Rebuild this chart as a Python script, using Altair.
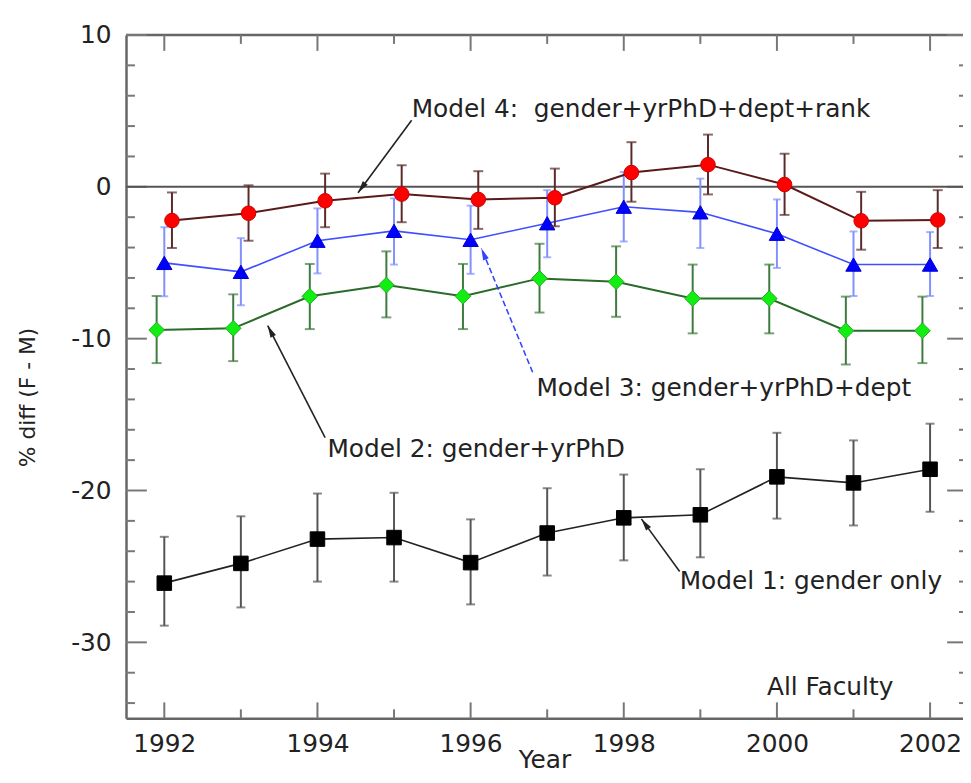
import math
import altair as alt
import pandas as pd

# ---------------- data ----------------
years = list(range(1992, 2003))

m1_val = [-26.1, -24.8, -23.2, -23.1, -24.75, -22.8, -21.8, -21.6, -19.1, -19.5, -18.6]
m1_lo = [-28.9, -27.7, -26.0, -26.0, -27.5, -25.6, -24.6, -24.4, -21.85, -22.3, -21.4]
m1_hi = [-23.05, -21.7, -20.2, -20.15, -21.9, -19.85, -18.95, -18.6, -16.2, -16.7, -15.6]

m2_val = [-9.43, -9.32, -7.21, -6.47, -7.21, -6.03, -6.25, -7.36, -7.36, -9.48, -9.48]
m2_lo = [-11.61, -11.48, -9.37, -8.6, -9.37, -8.28, -8.56, -9.65, -9.65, -11.7, -11.61]
m2_hi = [-7.19, -7.08, -5.08, -4.25, -5.08, -3.75, -3.92, -5.12, -5.12, -7.23, -7.23]

m3_val = [-5.01, -5.6, -3.55, -2.9, -3.49, -2.4, -1.31, -1.68, -3.09, -5.12, -5.12]
m3_lo = [-7.21, -7.8, -5.7, -5.12, -5.73, -4.64, -3.6, -4.03, -5.34, -7.19, -7.19]
m3_hi = [-2.66, -3.38, -1.42, -0.76, -1.24, -0.22, 0.98, 0.54, -0.83, -2.94, -2.98]

m4_val = [-2.22, -1.74, -0.92, -0.48, -0.83, -0.72, 0.94, 1.46, 0.15, -2.24, -2.18]
m4_lo = [-4.03, -3.55, -2.66, -2.33, -2.77, -2.6, -0.98, -0.5, -1.85, -4.14, -4.03]
m4_hi = [-0.37, 0.1, 0.87, 1.42, 1.03, 1.2, 2.94, 3.44, 2.18, -0.33, -0.22]

x_major = [1992, 1994, 1996, 1998, 2000, 2002]
x_minor = [1993, 1995, 1997, 1999, 2001]
y_major = [-30, -20, -10, 0, 10]
y_minor = [-34, -32, -28, -26, -24, -22, -18, -16, -14, -12, -8, -6, -4, -2, 2, 4, 6, 8]

ann_labels = ["Model 4:\u00a0 gender+yrPhD+dept+rank", "Model 3: gender+yrPhD+dept",
              "Model 2: gender+yrPhD", "Model 1: gender only", "All Faculty"]
ann_x = [1995.23, 1996.86, 1994.13, 1998.73, 1999.87]
ann_y = [4.58, -13.77, -17.82, -26.51, -33.5]

arrow_tail_x = [1995.23, 1996.81, 1994.10, 1998.73]
arrow_tail_y = [4.38, -12.21, -16.52, -25.33]
arrow_head_x = [1994.53, 1996.14, 1993.35, 1998.23]
arrow_head_y = [-0.385, -4.04, -9.14, -21.87]

# ---------------- layout / style ----------------
W, H = 844, 689
X_DOM = [1991.5, 2002.43]
Y_DOM = [-35, 10]
FONT = "DejaVu Sans"
TXT = "#222222"
FRAME = "#666666"
TICK = "#777777"

xs = alt.Scale(domain=X_DOM, nice=False, zero=False)
ys = alt.Scale(domain=Y_DOM, nice=False, zero=False)
xaxis = alt.Axis(values=x_major, format="d", ticks=False, tickSize=0, grid=False,
                 domain=True, domainColor=FRAME, domainWidth=2.5,
                 labelPadding=14, labelFontSize=25, labelFont=FONT, labelColor=TXT,
                 title="Year", titleFont=FONT, titleFontSize=25, titleFontWeight="normal",
                 titleColor=TXT, titleY=50, titleBaseline="alphabetic")
yaxis = alt.Axis(values=y_major, ticks=False, tickSize=0, grid=False,
                 labelExpr="'' + datum.value",
                 domain=True, domainColor=FRAME, domainWidth=2.5,
                 labelPadding=15, labelFontSize=25, labelFont=FONT, labelColor=TXT,
                 labelBaseline="middle",
                 title="% diff (F - M)", titleFont=FONT, titleFontSize=22,
                 titleFontWeight="normal", titleColor=TXT, titleX=-99, titleY=365,
                 titleAlign="center", titleBaseline="middle", titleAngle=270)


def X(f):
    return alt.X(f, type="quantitative", scale=xs, axis=xaxis)


def Y(f):
    return alt.Y(f, type="quantitative", scale=ys, axis=yaxis)


layers = []

# frame top
layers.append(alt.Chart(pd.DataFrame({"v": [Y_DOM[1]]})).mark_rule(color=FRAME, strokeWidth=2.5)
              .encode(y=Y("v"), x=alt.value(0), x2=alt.value(W)))

# ticks
xmaj = pd.DataFrame({"v": x_major})
xmin = pd.DataFrame({"v": x_minor})
ymaj = pd.DataFrame({"v": y_major})
ymin = pd.DataFrame({"v": y_minor})
tick = dict(color=TICK, strokeWidth=2)
layers += [
    alt.Chart(xmaj).mark_rule(**tick).encode(x=X("v"), y=alt.value(H - 16), y2=alt.value(H)),
    alt.Chart(xmin).mark_rule(**tick).encode(x=X("v"), y=alt.value(H - 9), y2=alt.value(H)),
    alt.Chart(xmaj).mark_rule(**tick).encode(x=X("v"), y=alt.value(0), y2=alt.value(16)),
    alt.Chart(xmin).mark_rule(**tick).encode(x=X("v"), y=alt.value(0), y2=alt.value(9)),
    alt.Chart(ymaj).mark_rule(**tick).encode(y=Y("v"), x=alt.value(0), x2=alt.value(21)),
    alt.Chart(ymin).mark_rule(**tick).encode(y=Y("v"), x=alt.value(0), x2=alt.value(9)),
    alt.Chart(ymaj).mark_rule(**tick).encode(y=Y("v"), x=alt.value(W - 16), x2=alt.value(W)),
    alt.Chart(ymin).mark_rule(**tick).encode(y=Y("v"), x=alt.value(W - 4), x2=alt.value(W)),
]

# zero line
layers.append(alt.Chart(pd.DataFrame({"v": [0]})).mark_rule(color="#555555", strokeWidth=2)
              .encode(y=Y("v")))


def series(vals, lo, hi, offset, line_color, line_width, bar_color, cap,
           shape, size, fill, stroke):
    df = pd.DataFrame({"year": years, "val": vals, "lo": lo, "hi": hi})
    df["xpos"] = df["year"] + offset
    base = alt.Chart(df)
    return [
        base.mark_rule(color=bar_color, strokeWidth=2).encode(x=X("xpos"), y=Y("lo"), y2="hi:Q"),
        base.mark_tick(color=bar_color, orient="horizontal", size=cap, thickness=2)
        .encode(x=X("xpos"), y=Y("lo")),
        base.mark_tick(color=bar_color, orient="horizontal", size=cap, thickness=2)
        .encode(x=X("xpos"), y=Y("hi")),
        base.mark_line(color=line_color, strokeWidth=line_width).encode(x=X("xpos"), y=Y("val")),
        base.mark_point(shape=shape, size=size, filled=True, fill=fill, stroke=stroke,
                        strokeWidth=1, opacity=1).encode(x=X("xpos"), y=Y("val")),
    ]


layers += series(m1_val, m1_lo, m1_hi, 0.0, "#222222", 1.6, "#555555", 9,
                 "square", 215, "#000000", "#000000")
layers += series(m2_val, m2_lo, m2_hi, -0.1, "#2a6a2a", 2, "#3d7a3d", 10,
                 "diamond", 250, "#11ee11", "#22aa22")
layers += series(m3_val, m3_lo, m3_hi, 0.0, "#3f4fff", 1.6, "#8090ff", 8,
                 "triangle-up", 240, "#0000ff", "#0000cc")
layers += series(m4_val, m4_lo, m4_hi, 0.1, "#5a1a1a", 2, "#5a2a2a", 10,
                 "circle", 215, "#ff0000", "#cc0000")

# annotations
ann = pd.DataFrame({"label": ann_labels, "x": ann_x, "y": ann_y})
layers.append(alt.Chart(ann).mark_text(align="left", baseline="alphabetic", font=FONT,
                                       fontSize=25, color=TXT)
              .encode(x=X("x"), y=Y("y"), text="label:N"))

px_x = W / (X_DOM[1] - X_DOM[0])
px_y = H / (Y_DOM[1] - Y_DOM[0])
arr = pd.DataFrame({"tx": arrow_tail_x, "ty": arrow_tail_y,
                    "hx": arrow_head_x, "hy": arrow_head_y})
arr["ang"] = [
    math.degrees(math.atan2((hx - tx) * px_x, (hy - ty) * px_y)) % 360
    for tx, ty, hx, hy in zip(arr.tx, arr.ty, arr.hx, arr.hy)
]
arr["kind"] = ["k", "b", "k", "k"]
head_path = "M0,0L-0.5,2L0.5,2Z"

for kind, dash in (("k", None), ("b", [6, 3])):
    sub = arr[arr.kind == kind]
    rk = dict(color="#222222" if kind == "k" else "#3344ff", strokeWidth=1.6)
    if dash:
        rk["strokeDash"] = dash
    layers.append(alt.Chart(sub).mark_rule(**rk)
                  .encode(x=X("tx"), y=Y("ty"), x2="hx:Q", y2="hy:Q"))
    layers.append(alt.Chart(sub).mark_point(shape=head_path, size=150, filled=True,
                                            color=rk["color"], opacity=1)
                  .encode(x=X("hx"), y=Y("hy"), angle=alt.Angle("ang:Q", scale=None)))

chart = alt.layer(*layers).properties(
    width=W, height=H,
    autosize=alt.AutoSizeParams(type="none"),
    padding={"left": 119, "top": 24, "right": 0, "bottom": 54},
    background="white",
).configure_view(strokeWidth=0)

chart.save("out.html", embed_options={"renderer": "svg", "actions": False})
